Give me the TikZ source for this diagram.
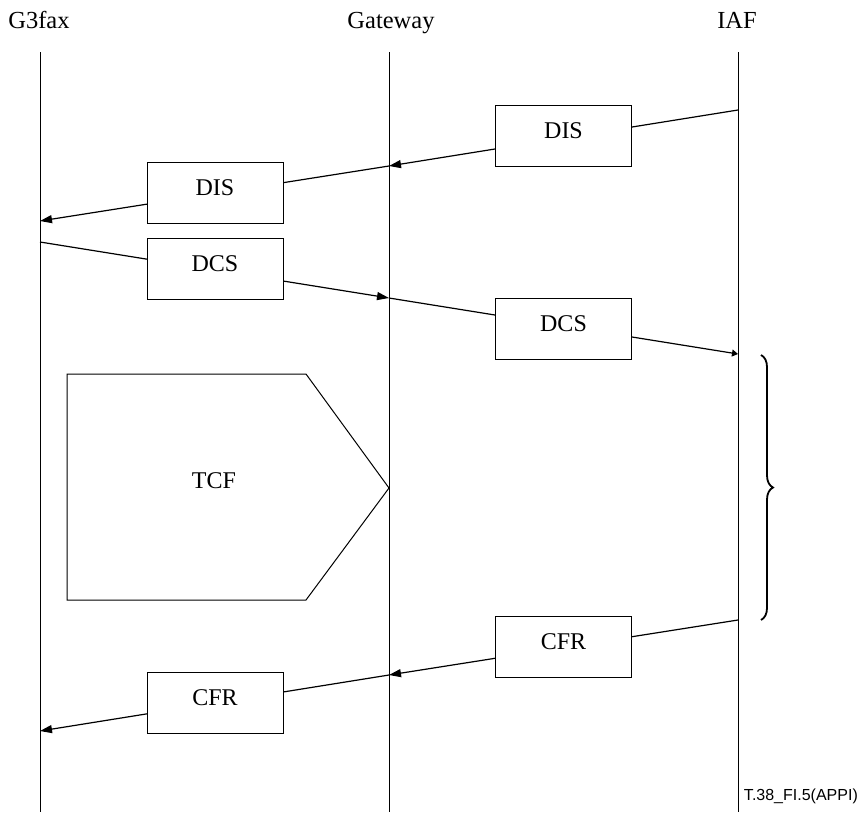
\documentclass[tikz,border=0pt]{standalone}
\usepackage{fontspec}
\setmainfont{Liberation Serif}
\newfontfamily\footfont{Liberation Sans}
\usetikzlibrary{arrows.meta,decorations.pathreplacing}
\begin{document}
\begin{tikzpicture}[x=1pt,y=-1pt,
  life/.style={line width=1pt},
  msg/.style={line width=1.2pt},
  arr/.style={msg,-{Triangle[length=12pt,width=8pt]}},
  smallarr/.style={msg,-{Triangle[length=6pt,width=7pt]}},
  sbox/.style={draw,line width=1pt,fill=white,minimum width=136pt,minimum height=61pt,inner sep=0pt,font=\fontsize{24}{28}\selectfont,text height=16pt,text depth=11pt},
  head/.style={font=\fontsize{24.5}{28}\selectfont,anchor=base,inner sep=0pt},
  pent/.style={draw,line width=1pt}]
\useasboundingbox (0,0) rectangle (864,812);

% headers
\node[head] (hG) at (39,28) {G3fax};
\node[head] (hW) at (391,28) {Gateway};
\node[head] (hI) at (737,28) {IAF};

% lifelines
\coordinate (gT) at (40,52);  \coordinate (gB) at (40,812);
\coordinate (wT) at (389,52); \coordinate (wB) at (389,812);
\coordinate (iT) at (738,52); \coordinate (iB) at (738,812);
\draw[life] (gT) -- (gB);
\draw[life] (wT) -- (wB);
\draw[life] (iT) -- (iB);

% message end points
\coordinate (i1) at (738,110); \coordinate (w1) at (389,166); \coordinate (g1) at (40,221);
\coordinate (g2) at (40,242);  \coordinate (w2) at (389,298); \coordinate (i2) at (738,354);
\coordinate (i3) at (738,620); \coordinate (w3) at (389,675); \coordinate (g3) at (40,731);

\draw[arr] (i1) -- (w1);
\draw[arr] (w1) -- (g1);
\draw[arr] (g2) -- (w2);
\draw[smallarr] (w2) -- (i2);
\draw[arr] (i3) -- (w3);
\draw[arr] (w3) -- (g3);

% boxes
\node[sbox] (dis1) at (563.5,135.5) {DIS};
\node[sbox] (dis2) at (215,192.5) {DIS};
\node[sbox] (dcs1) at (215,268.5) {DCS};
\node[sbox] (dcs2) at (563.5,329) {DCS};
\node[sbox] (cfr1) at (563.5,646.5) {CFR};
\node[sbox] (cfr2) at (215,703) {CFR};

% TCF pentagon
\coordinate (p1) at (67,374); \coordinate (p2) at (306,374); \coordinate (p3) at (389,488);
\coordinate (p4) at (306,600); \coordinate (p5) at (67,600);
\draw[pent] (p1) -- (p2) -- (p3) -- (p4) -- (p5) -- cycle;
\node[font=\fontsize{24}{28}\selectfont] (tcf) at (214,481) {TCF};

% brace
\coordinate (bT) at (761,355); \coordinate (bB) at (761,620);
\draw[decorate,decoration={brace,amplitude=12pt},line width=1.8pt] (bT) -- (bB);

% footer
\node[font=\footfont\fontsize{16}{18}\selectfont,anchor=base east,inner sep=0pt] (ft) at (858,800) {T.38\_FI.5(APPI)};
\end{tikzpicture}
\end{document}
